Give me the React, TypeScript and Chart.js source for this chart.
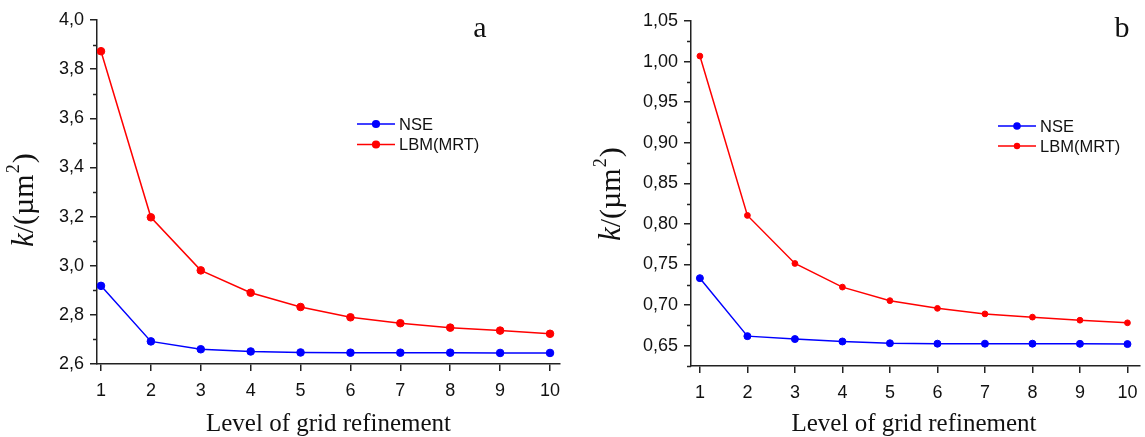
import React, { useEffect, useRef } from "react";
import { Chart, registerables } from "chart.js";

Chart.register(...registerables);

// ---------- data ----------
const levels = [1, 2, 3, 4, 5, 6, 7, 8, 9, 10];
const seriesNames = ["NSE", "LBM(MRT)"];

const nseA = [2.918, 2.692, 2.660, 2.651, 2.647, 2.646, 2.646, 2.646, 2.645, 2.645];
const lbmA = [3.873, 3.197, 2.981, 2.890, 2.832, 2.790, 2.766, 2.748, 2.736, 2.723];

const nseB = [0.7332, 0.6618, 0.6582, 0.6552, 0.653, 0.6525, 0.6525, 0.6525, 0.6523, 0.652];
const lbmB = [1.0068, 0.8105, 0.7513, 0.7222, 0.7055, 0.696, 0.6892, 0.6852, 0.6814, 0.6782];

const yTicksA = [2.6, 2.8, 3.0, 3.2, 3.4, 3.6, 3.8, 4.0];
const yMinorA = [2.7, 2.9, 3.1, 3.3, 3.5, 3.7, 3.9];
const yTicksB = [0.65, 0.7, 0.75, 0.8, 0.85, 0.9, 0.95, 1.0, 1.05];
const yMinorB = [0.625, 0.675, 0.725, 0.775, 0.825, 0.875, 0.925, 0.975, 1.025];

const xTitle = "Level of grid refinement";
const panelLetters = ["a", "b"];

const BLUE = "#0000ff";
const RED = "#ff0000";
const AXIS = "#222222";
const TEXT = "#111111";
const SANS = '"Liberation Sans", Arial, sans-serif';
const SERIF = '"Liberation Serif", "Times New Roman", serif';

type PanelCfg = {
  left: number;
  width: number;
  letter: string;
  nse: number[];
  lbm: number[];
  yMin: number;
  yMax: number;
  yTicks: number[];
  yMinor: number[];
  decimals: number;
  xMin: number;
  xMax: number;
  padTop: number;
  padRight: number;
  yWidth: number;
  xHeight: number;
  yLabelPad: number;
  blueR: number;
  redR: number;
  titleBaseX: number;
  titleStartY: number;
  legX0: number;
  legY: number[];
  letterX: number;
  letterY: number;
  xTitleX: number;
};

const panels: PanelCfg[] = [
  {
    left: 0,
    width: 572,
    letter: panelLetters[0],
    nse: nseA,
    lbm: lbmA,
    yMin: 2.6,
    yMax: 4.0,
    yTicks: yTicksA,
    yMinor: yMinorA,
    decimals: 1,
    xMin: 0.92,
    xMax: 10.2,
    padTop: 20,
    padRight: 12,
    yWidth: 97,
    xHeight: 73,
    yLabelPad: 6,
    blueR: 3.8,
    redR: 3.8,
    titleBaseX: 33,
    titleStartY: 247,
    legX0: 357,
    legY: [124, 144.5],
    letterX: 480,
    letterY: 37,
    xTitleX: 328.5,
  },
  {
    left: 572,
    width: 573,
    letter: panelLetters[1],
    nse: nseB,
    lbm: lbmB,
    yMin: 0.625,
    yMax: 1.05,
    yTicks: yTicksB,
    yMinor: yMinorB,
    decimals: 2,
    xMin: 0.8126,
    xMax: 10.264,
    padTop: 21,
    padRight: 0,
    yWidth: 119,
    xHeight: 71,
    yLabelPad: 6,
    blueR: 3.5,
    redR: 2.9,
    titleBaseX: 48,
    titleStartY: 241,
    legX0: 426,
    legY: [126, 146],
    letterX: 550,
    letterY: 37,
    xTitleX: 342,
  },
];

function drawYTitle(ctx: CanvasRenderingContext2D, baseX: number, startY: number) {
  ctx.save();
  ctx.translate(baseX, startY);
  ctx.rotate(-Math.PI / 2);
  ctx.fillStyle = TEXT;
  ctx.textBaseline = "alphabetic";
  ctx.textAlign = "left";
  let x = 0;
  ctx.font = `italic 31px ${SERIF}`;
  ctx.fillText("k", x, 0);
  x += ctx.measureText("k").width;
  ctx.font = `30px ${SERIF}`;
  const mid = "/(\u00b5m";
  ctx.fillText(mid, x, 0);
  x += ctx.measureText(mid).width;
  ctx.font = `18px ${SERIF}`;
  ctx.fillText("2", x + 1, -14);
  x += ctx.measureText("2").width + 2;
  ctx.font = `30px ${SERIF}`;
  ctx.fillText(")", x, 0);
  ctx.restore();
}

function Panel({ cfg }: { cfg: PanelCfg }) {
  const ref = useRef<HTMLCanvasElement | null>(null);

  useEffect(() => {
    const canvas = ref.current;
    if (!canvas) return;

    const overlay = {
      id: "overlay",
      afterDraw(chart: any) {
        const ctx: CanvasRenderingContext2D = chart.ctx;
        const area = chart.chartArea;
        const ys = chart.scales.y;
        // minor ticks
        ctx.save();
        ctx.strokeStyle = AXIS;
        ctx.lineWidth = 1.5;
        for (const v of cfg.yMinor) {
          const py = Math.round(ys.getPixelForValue(v)) + 0.5;
          ctx.beginPath();
          ctx.moveTo(area.left, py);
          ctx.lineTo(area.left - 4, py);
          ctx.stroke();
        }
        ctx.restore();

        // y title
        drawYTitle(ctx, cfg.titleBaseX, cfg.titleStartY);

        // x title
        ctx.save();
        ctx.fillStyle = TEXT;
        ctx.font = `25px ${SERIF}`;
        ctx.textAlign = "center";
        ctx.textBaseline = "alphabetic";
        ctx.fillText(xTitle, cfg.xTitleX, 431);
        ctx.restore();

        // panel letter
        ctx.save();
        ctx.fillStyle = TEXT;
        ctx.font = `30px ${SERIF}`;
        ctx.textAlign = "center";
        ctx.textBaseline = "alphabetic";
        ctx.fillText(cfg.letter, cfg.letterX, cfg.letterY);
        ctx.restore();

        // legend
        const colors = [BLUE, RED];
        const radii = [cfg.blueR, cfg.redR];
        ctx.save();
        for (let i = 0; i < seriesNames.length; i++) {
          const y = cfg.legY[i];
          ctx.strokeStyle = colors[i];
          ctx.lineWidth = 1.5;
          ctx.beginPath();
          ctx.moveTo(cfg.legX0, y);
          ctx.lineTo(cfg.legX0 + 38, y);
          ctx.stroke();
          ctx.fillStyle = colors[i];
          ctx.beginPath();
          ctx.arc(cfg.legX0 + 19, y, radii[i] + 0.3, 0, Math.PI * 2);
          ctx.fill();
          ctx.fillStyle = TEXT;
          ctx.font = `16.5px ${SANS}`;
          ctx.textAlign = "left";
          ctx.textBaseline = "middle";
          ctx.fillText(seriesNames[i], cfg.legX0 + 42, y + 1);
        }
        ctx.restore();
      },
    };

    const chart = new Chart(canvas, {
      type: "line",
      data: {
        datasets: [
          {
            label: seriesNames[0],
            data: levels.map((x, i) => ({ x, y: cfg.nse[i] })),
            borderColor: BLUE,
            backgroundColor: BLUE,
            borderWidth: 1.5,
            pointRadius: cfg.blueR,
            pointBorderWidth: 1,
            pointBackgroundColor: BLUE,
            pointBorderColor: BLUE,
            tension: 0,
            fill: false,
          },
          {
            label: seriesNames[1],
            data: levels.map((x, i) => ({ x, y: cfg.lbm[i] })),
            borderColor: RED,
            backgroundColor: RED,
            borderWidth: 1.5,
            pointRadius: cfg.redR,
            pointBorderWidth: 1,
            pointBackgroundColor: RED,
            pointBorderColor: RED,
            tension: 0,
            fill: false,
          },
        ],
      },
      options: {
        responsive: false,
        animation: false,
        devicePixelRatio: 1,
        layout: { padding: { left: 0, top: cfg.padTop, right: cfg.padRight, bottom: 0 } },
        plugins: {
          legend: { display: false },
          title: { display: false },
          tooltip: { enabled: false },
        },
        events: [],
        scales: {
          x: {
            type: "linear",
            min: cfg.xMin,
            max: cfg.xMax,
            afterBuildTicks: (s: any) => {
              s.ticks = levels.map((v) => ({ value: v }));
            },
            afterFit: (s: any) => {
              s.height = cfg.xHeight;
              s.paddingLeft = 0;
              s.paddingRight = 0;
            },
            ticks: {
              autoSkip: false,
              maxRotation: 0,
              minRotation: 0,
              padding: 9,
              color: TEXT,
              font: { family: SANS, size: 18 },
              callback: (v: any) => String(v),
            },
            grid: {
              display: true,
              drawOnChartArea: false,
              drawTicks: true,
              tickLength: 7,
              color: AXIS,
              lineWidth: 1.5,
            },
            border: { display: true, color: AXIS, width: 1.5 },
          },
          y: {
            type: "linear",
            min: cfg.yMin,
            max: cfg.yMax,
            afterBuildTicks: (s: any) => {
              s.ticks = cfg.yTicks.map((v) => ({ value: v }));
            },
            afterFit: (s: any) => {
              s.width = cfg.yWidth;
              s.paddingTop = 0;
              s.paddingBottom = 0;
            },
            ticks: {
              autoSkip: false,
              padding: cfg.yLabelPad,
              color: TEXT,
              font: { family: SANS, size: 18 },
              callback: (v: any) => Number(v).toFixed(cfg.decimals).replace(".", ","),
            },
            grid: {
              display: true,
              drawOnChartArea: false,
              drawTicks: true,
              tickLength: 7,
              color: AXIS,
              lineWidth: 1.5,
            },
            border: { display: true, color: AXIS, width: 1.5 },
          },
        },
      },
      plugins: [overlay],
    } as any);

    return () => chart.destroy();
  }, [cfg]);

  return (
    <canvas
      ref={ref}
      width={cfg.width}
      height={437}
      style={{ position: "absolute", left: cfg.left, top: 0, width: cfg.width, height: 437 }}
    />
  );
}

export default function App() {
  return (
    <div
      style={{
        position: "fixed",
        left: 0,
        top: 0,
        width: 1145,
        height: 437,
        background: "#ffffff",
        overflow: "hidden",
      }}
    >
      {panels.map((p) => (
        <Panel key={p.letter} cfg={p} />
      ))}
    </div>
  );
}
